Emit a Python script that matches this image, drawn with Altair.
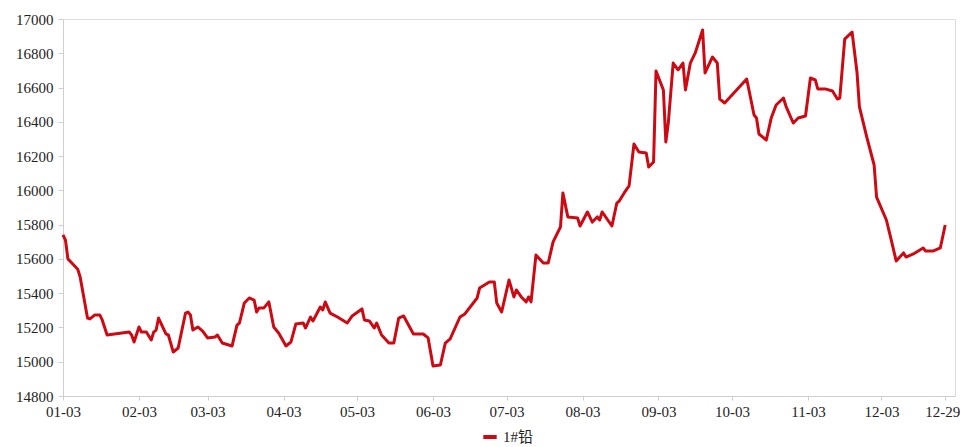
import altair as alt
import pandas as pd

dates = ["01-03","01-04","01-05","01-07","01-09","01-10","01-13","01-14","01-16","01-18","01-19","01-21","01-30","01-31",
"02-01","02-03","02-04","02-06","02-08","02-09","02-10","02-11","02-14","02-15","02-17","02-19","02-22","02-23","02-24","02-25","02-27",
"03-01","03-03","03-06","03-07","03-09","03-13","03-15","03-16","03-18","03-20","03-22","03-23","03-24","03-26","03-28","03-30",
"04-01","04-04","04-06","04-08","04-11","04-12","04-14","04-15","04-18","04-19","04-20","04-22","04-25","04-29",
"05-01","05-05","05-06","05-08","05-10","05-11","05-13","05-16","05-18","05-20","05-22","05-26","05-30",
"06-01","06-03","06-06","06-08","06-10","06-14","06-16","06-21","06-22","06-26","06-28","06-29",
"07-01","07-04","07-06","07-07","07-09","07-11","07-12","07-13","07-15","07-18","07-20","07-22","07-25","07-26","07-28",
"08-01","08-02","08-05","08-07","08-09","08-10","08-11","08-15","08-17","08-18","08-20","08-22","08-24","08-26","08-29","08-30",
"09-01","09-02","09-05","09-06","09-07","09-09","09-11","09-13","09-14","09-16","09-18","09-21","09-22","09-25","09-27","09-28","09-30",
"10-09","10-12","10-13","10-14","10-17","10-19","10-21","10-24","10-25","10-28","10-30",
"11-02","11-04","11-06","11-07","11-10","11-13","11-15","11-16","11-18","11-21","11-23","11-24","11-27","11-30",
"12-01","12-05","12-07","12-09","12-12","12-13","12-16","12-20","12-21","12-24","12-27","12-29"]

prices = [15740,15710,15600,15570,15540,15495,15255,15250,15273,15273,15244,15156,15173,15156,
15115,15203,15173,15173,15127,15173,15185,15255,15162,15156,15057,15080,15284,15290,15273,15185,15203,
15179,15139,15144,15156,15109,15092,15214,15226,15343,15372,15360,15290,15314,15314,15349,15203,
15168,15092,15115,15220,15226,15197,15261,15238,15319,15302,15349,15284,15261,15226,
15267,15308,15244,15238,15197,15226,15156,15109,15109,15255,15267,15162,15162,
15139,14975,14981,15109,15133,15261,15279,15372,15430,15465,15465,15343,
15290,15477,15378,15419,15378,15349,15378,15349,15623,15576,15576,15699,15786,15985,15845,
15839,15792,15874,15815,15845,15827,15874,15792,15926,15938,15985,16026,16271,16224,16218,16136,
16166,16697,16586,16282,16393,16743,16703,16743,16586,16743,16802,16936,16685,16778,16743,16533,16510,
16650,16440,16422,16329,16294,16422,16498,16539,16492,16393,16422,
16434,16656,16644,16592,16592,16580,16533,16539,16883,16924,16691,16487,16311,16148,
15961,15827,15710,15588,15635,15611,15629,15664,15646,15646,15664,15798]

year = 2021
series_name = "1#铅"
tick_dates = [(1,3),(2,3),(3,3),(4,3),(5,3),(6,3),(7,3),(8,3),(9,3),(10,3),(11,3),(12,3),(12,29)]
y_ticks = list(range(14800, 17001, 200))

df = pd.DataFrame({
    "date": [f"{year}-{d}" for d in dates],
    "price": prices,
    "series": [series_name] * len(prices),
})

font = "Liberation Serif, Times New Roman, Noto Sans CJK SC, serif"

x_vals = [alt.DateTime(year=year, month=m, date=d, utc=True) for m, d in tick_dates]

chart = alt.Chart(df).mark_line(strokeWidth=3, interpolate="linear", strokeJoin="round").encode(
    x=alt.X("date:T",
            scale=alt.Scale(type="utc",
                            domain=[alt.DateTime(year=year, month=1, date=3, utc=True),
                                    alt.DateTime(year=year + 1, month=1, date=2, utc=True)]),
            axis=alt.Axis(values=x_vals, format="%m-%d", title=None, grid=False,
                          labelFont=font, labelFontSize=15, labelColor="#222222",
                          domainColor="#cfcfcf", tickColor="#cfcfcf", tickSize=4,
                          labelPadding=4, labelOverlap=False, labelFlush=False,
                          labelOffset={"condition": {"test": "datum.label == '12-29'", "value": -3},
                                       "value": 0})),
    y=alt.Y("price:Q",
            scale=alt.Scale(domain=[14800, 17000], nice=False, zero=False),
            axis=alt.Axis(values=y_ticks, title=None, grid=False, format="d",
                          labelFont=font, labelFontSize=15, labelColor="#222222",
                          domainColor="#cfcfcf", tickColor="#cfcfcf", tickSize=5,
                          labelPadding=5)),
    color=alt.Color("series:N",
                    scale=alt.Scale(domain=[series_name], range=["#cc0a14"]),
                    legend=alt.Legend(title=None, orient="none", legendX=418, legendY=409,
                                      direction="horizontal", symbolType="stroke",
                                      symbolStrokeWidth=4, symbolSize=180,
                                      labelFont=font, labelFontSize=15, labelColor="#222222")),
).properties(
    width=892, height=377,
    autosize=alt.AutoSizeParams(type="none"),
    padding={"left": 55, "top": 11, "right": 5, "bottom": 50},
).configure_view(stroke=None).configure(background="white")

chart.save("out.html", embed_options={"renderer": "svg", "actions": False})
